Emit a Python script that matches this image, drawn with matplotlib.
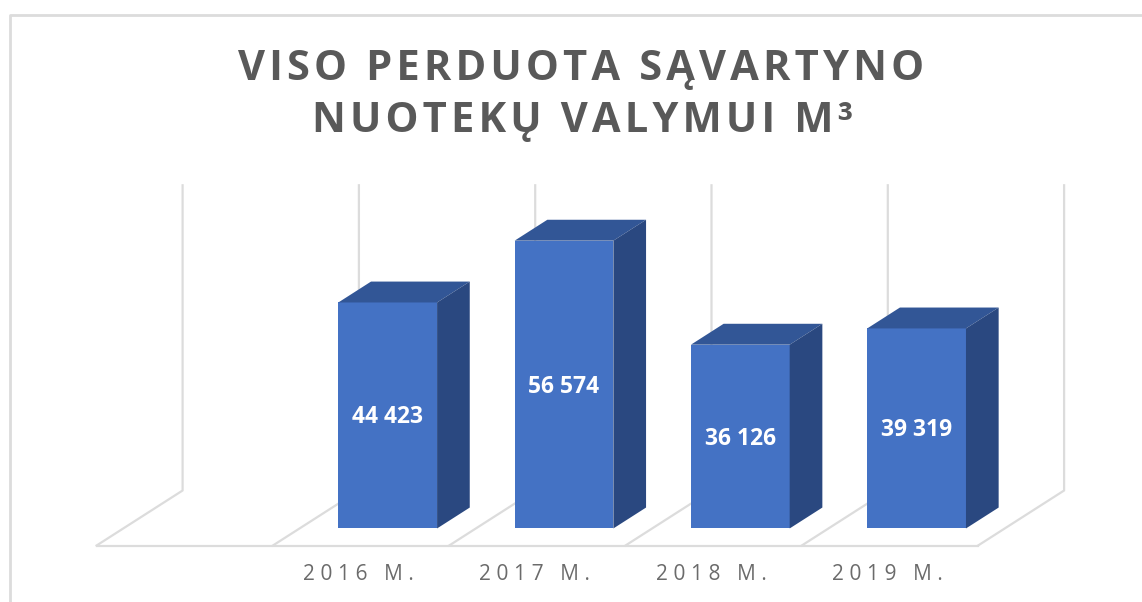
"""
VISO PERDUOTA SAVARTYNO NUOTEKU VALYMUI - pseudo 3D column chart
"""
import matplotlib
matplotlib.use("Agg")
import matplotlib.pyplot as plt
from matplotlib.lines import Line2D

categories = ["", "2016 M.", "2017 M.", "2018 M.", "2019 M."]
values = [None, 44423, 56574, 36126, 39319]
value_labels = ["", "44 423", "56 574", "36 126", "39 319"]
title_lines = ["VISO PERDUOTA SĄVARTYNO", "NUOTEKŲ VALYMUI M³"]
y_max = 60000

W, H = 1142, 602
FONT = ["Open Sans", "DejaVu Sans"]

# scale of the picture: one category / one m3 in pixels
cat_px = 176.3
val_px = 0.005087
x0_px = 96.6
y0_px = 545.5

# oblique depth of the floor, in data units
depth_x = 86 / cat_px
depth_y = 55 / val_px
front, back = 0.31, 0.69
bar_w = 0.56

GRID = "#dcdcdc"
C_FRONT = "#4472c4"
C_TOP = "#325696"
C_SIDE = "#2a4880"


def spaced(s, gap="\u200a"):
    # letter spacing, matplotlib has no tracking option
    return gap.join(s)


def project(x, y, d):
    return x + d * depth_x, y + d * depth_y


fig = plt.figure(figsize=(W / 100, H / 100), dpi=100)
ax = fig.add_axes([0, 0, 1, 1])
ax.set_xlim(-x0_px / cat_px, (W - x0_px) / cat_px)
ax.set_ylim(-(H - y0_px) / val_px, y0_px / val_px)
ax.axis("off")

# outer frame, only top and left are visible
fig.add_artist(Line2D([10 / W, 10 / W, 1], [0, 1 - 15 / H, 1 - 15 / H], color=GRID, lw=2))

# floor and back wall
n = len(categories)
for i in range(n + 1):
    bx, by = project(i, 0, 1)
    ax.plot([i, bx, bx], [0, by, by + y_max], color=GRID, lw=1.6, zorder=1)
ax.plot([0, n], [0, 0], color=GRID, lw=1.6, zorder=1)

for i, (cat, val, lab) in enumerate(zip(categories, values, value_labels)):
    xc = i + 0.5
    ax.text(xc - 2.5 / cat_px, -29.5 / val_px, spaced(cat, "\u2009\u200a"), ha="center", va="center",
            fontsize=15, color="#6b6b6b", family=FONT)
    if val is None:
        continue
    xl = xc - bar_w / 2
    xr = xc + bar_w / 2
    p = [project(xl, 0, front), project(xr, 0, front),
         project(xr, val, front), project(xl, val, front)]
    q = [project(xl, 0, back), project(xr, 0, back),
         project(xr, val, back), project(xl, val, back)]
    ax.fill(*zip(p[0], p[1], p[2], p[3]), color=C_FRONT, lw=0, zorder=3)
    ax.fill(*zip(p[3], p[2], q[2], q[3]), color=C_TOP, lw=0, zorder=3)
    ax.fill(*zip(p[1], q[1], q[2], p[2]), color=C_SIDE, lw=0, zorder=3)
    lx, ly = project(xc, val / 2, front)
    ax.text(lx, ly - 2 / val_px, lab, ha="center", va="center", fontsize=16.5, fontweight="bold",
            color="white", family=FONT, zorder=4)

# title
title_x = [581, 583]
for k, line in enumerate(title_lines):
    fig.text(title_x[k] / W, 1 - (69 + 53 * k) / H, spaced(line), ha="center", va="center",
             fontsize=30, fontweight="bold", color="#595959", family=FONT)

fig.savefig("out.png", dpi=100)
